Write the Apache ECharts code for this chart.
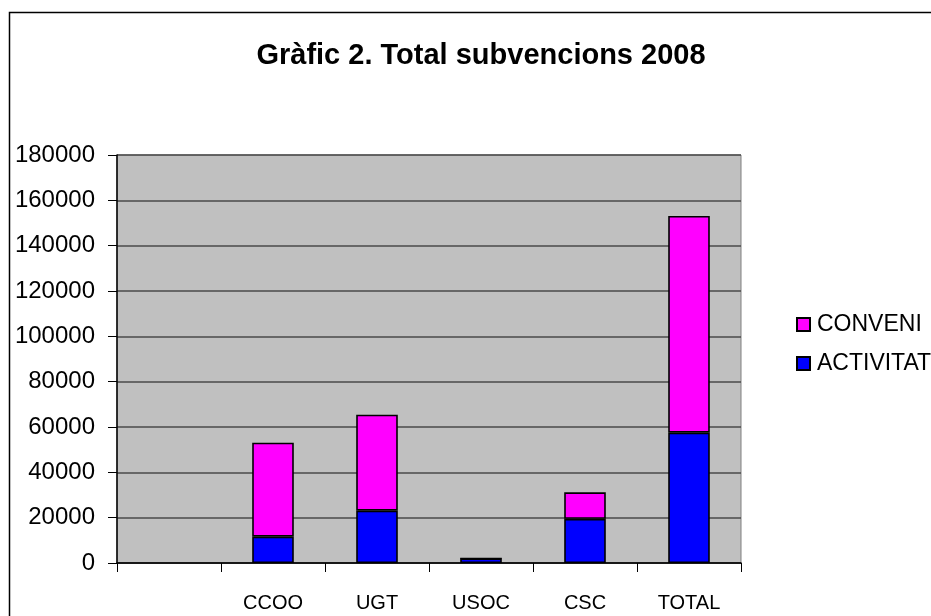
<!DOCTYPE html>
<html>
<head>
<meta charset="utf-8">
<script src="https://cdn.jsdelivr.net/npm/echarts@6/dist/echarts.min.js"></script>
<style>html,body{margin:0;padding:0;background:#fff}#c{width:931px;height:616px}</style>
</head>
<body>
<div id="c"></div>
<script>
var categories = ['', 'CCOO', 'UGT', 'USOC', 'CSC', 'TOTAL'];
var activitat = [null, 11600, 23100, 2000, 19500, 57500];
var conveni = [null, 41500, 42300, 0, 11700, 95600];
var titleText = 'Gràfic 2. Total subvencions 2008';
var yMin = 0, yMax = 180000, yStep = 20000;

var chart = echarts.init(document.getElementById('c'), null, {renderer: 'canvas'});
var font = 'Arial, "Liberation Sans", sans-serif';
chart.setOption({
  animation: false,
  backgroundColor: '#ffffff',
  title: {
    text: titleText,
    left: 476, top: 36, textAlign: 'center',
    textStyle: {fontFamily: font, fontSize: 29, fontWeight: 'bold', color: '#000'}
  },
  graphic: [{
    type: 'rect', left: 7, top: 10, shape: {width: 1000, height: 700},
    style: {fill: 'none', stroke: '#000', lineWidth: 1.5}, silent: true, z: 100
  }],
  legend: {
    orient: 'vertical', left: 791, top: 308,
    data: ['CONVENI', 'ACTIVITAT'],
    itemWidth: 13, itemHeight: 13, itemGap: 16,
    icon: 'rect',
    textStyle: {fontFamily: font, fontSize: 23, color: '#000', padding: [0, 0, 0, 2]}
  },
  grid: {
    left: 117, right: 190, top: 155, bottom: 53,
    show: true, backgroundColor: '#C0C0C0', borderColor: '#808080', borderWidth: 1
  },
  xAxis: {
    type: 'category', data: categories,
    axisLine: {lineStyle: {color: '#000', width: 1.5}},
    axisTick: {show: true, alignWithLabel: false, length: 9, lineStyle: {color: '#000'}},
    axisLabel: {fontFamily: font, fontSize: 20, color: '#000', margin: 30}
  },
  yAxis: {
    type: 'value', min: yMin, max: yMax, interval: yStep,
    axisLine: {show: true, lineStyle: {color: '#000', width: 1.5}},
    axisTick: {show: true, length: 9, lineStyle: {color: '#000'}},
    axisLabel: {fontFamily: font, fontSize: 24, color: '#000', margin: 22,
      formatter: function (v) { return String(v); }},
    splitLine: {lineStyle: {color: '#4a4a4a', width: 1.5}}
  },
  series: [{
    name: 'ACTIVITAT', type: 'bar', stack: 'a', data: activitat, barWidth: '40%',
    itemStyle: {color: '#0000FF', borderColor: '#000', borderWidth: 1.6}
  }, {
    name: 'CONVENI', type: 'bar', stack: 'a', data: conveni, barWidth: '40%',
    itemStyle: {color: '#FF00FF', borderColor: '#000', borderWidth: 1.6}
  }]
});
</script>
</body>
</html>
